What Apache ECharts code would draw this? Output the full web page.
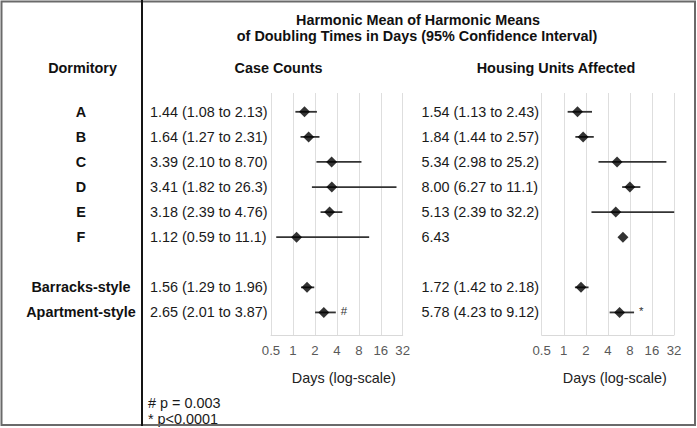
<!DOCTYPE html>
<html>
<head>
<meta charset="utf-8">
<script src="https://cdn.jsdelivr.net/npm/echarts@6/dist/echarts.min.js"></script>
<style>
html,body{margin:0;padding:0;background:#fff;}
#chart{width:697px;height:428px;}
</style>
</head>
<body>
<div id="chart"></div>
<script>
// ---- data ----
var rowNames = ['A', 'B', 'C', 'D', 'E', 'F', 'Barracks-style', 'Apartment-style'];
var rowPos = [1, 2, 3, 4, 5, 6, 8, 9];

var caseMean = [1.44, 1.64, 3.39, 3.41, 3.18, 1.12, 1.56, 2.65];
var caseLo   = [1.08, 1.27, 2.10, 1.82, 2.39, 0.59, 1.29, 2.01];
var caseHi   = [2.13, 2.31, 8.70, 26.3, 4.76, 11.1, 1.96, 3.87];
var caseText = ['1.44 (1.08 to 2.13)', '1.64 (1.27 to 2.31)', '3.39 (2.10 to 8.70)', '3.41 (1.82 to 26.3)',
                '3.18 (2.39 to 4.76)', '1.12 (0.59 to 11.1)', '1.56 (1.29 to 1.96)', '2.65 (2.01 to 3.87)'];
var caseNote = ['', '', '', '', '', '', '', '#'];

var housingMean = [1.54, 1.84, 5.34, 8.00, 5.13, 6.43, 1.72, 5.78];
var housingLo   = [1.13, 1.44, 2.98, 6.27, 2.39, null, 1.42, 4.23];
var housingHi   = [2.43, 2.57, 25.2, 11.1, 32.2, null, 2.18, 9.12];
var housingText = ['1.54 (1.13 to 2.43)', '1.84 (1.44 to 2.57)', '5.34 (2.98 to 25.2)', '8.00 (6.27 to 11.1)',
                   '5.13 (2.39 to 32.2)', '6.43', '1.72 (1.42 to 2.18)', '5.78 (4.23 to 9.12)'];
var housingNote = ['', '', '', '', '', '', '', '*'];

var xTicks = [0.5, 1, 2, 4, 8, 16, 32];
var titleLines = ['Harmonic Mean of Harmonic Means', 'of Doubling Times in Days (95% Confidence Interval)'];
var colHeaders = ['Dormitory', 'Case Counts', 'Housing Units Affected'];
var axisName = 'Days (log-scale)';
var footnotes = ['# p = 0.003', '* p<0.0001'];

// ---- chart ----
var FONT = '"Liberation Sans", Arial, sans-serif';
var FS = 14.4;
var chart = echarts.init(document.getElementById('chart'), null, {renderer: 'svg'});

function idxOf(v) { return rowPos.indexOf(Math.round(v)); }

function xAxisDef(gi) {
  return {
    type: 'log', logBase: 2, gridIndex: gi,
    min: xTicks[0], max: xTicks[xTicks.length - 1], interval: 1,
    axisLine: {show: true, lineStyle: {color: '#d9d9d9', width: 1}},
    axisTick: {show: false},
    splitLine: {show: true, lineStyle: {color: '#dedede', width: 1}},
    axisLabel: {
      fontFamily: FONT, fontSize: 13.2, color: '#595959', margin: 9, hideOverlap: false,
      formatter: function (v) { return String(+(+v).toPrecision(3)); }
    },
    name: axisName, nameLocation: 'middle', nameGap: 36,
    nameTextStyle: {fontFamily: FONT, fontSize: FS, color: '#222', padding: [0, 0, 0, 14]}
  };
}

function yAxisBase(gi) {
  return {
    type: 'value', gridIndex: gi, inverse: true, min: 0.25, max: 9.9,
    axisLine: {show: false}, axisTick: {show: false}, splitLine: {show: false}
  };
}

var y0 = yAxisBase(0);
y0.position = 'left';
y0.axisLabel = {
  customValues: rowPos, align: 'center', margin: 190, fontFamily: FONT, fontSize: FS,
  fontWeight: 'bold', color: '#111',
  formatter: function (v) { var i = idxOf(v); return i < 0 ? '' : rowNames[i]; }
};
var y1 = yAxisBase(0);
y1.position = 'right';
y1.axisLabel = {
  customValues: rowPos, align: 'left', margin: -252.7, fontFamily: FONT, fontSize: FS, color: '#1a1a1a',
  formatter: function (v) { var i = idxOf(v); return i < 0 ? '' : caseText[i]; }
};
var y2 = yAxisBase(1);
y2.position = 'left';
y2.axisLabel = {
  customValues: rowPos, align: 'left', margin: 120.2, fontFamily: FONT, fontSize: FS, color: '#1a1a1a',
  formatter: function (v) { var i = idxOf(v); return i < 0 ? '' : housingText[i]; }
};

function ciData(lo, hi, note) {
  var out = [];
  for (var i = 0; i < rowPos.length; i++) {
    out.push([lo[i], hi[i], rowPos[i], note[i]]);
  }
  return out;
}
function ptData(mean) {
  return mean.map(function (m, i) { return [m, rowPos[i]]; });
}

function renderCI(params, api) {
  var lo = api.value(0), hi = api.value(1), row = api.value(2);
  var note = api.value(3);
  var children = [];
  if (lo != null && hi != null && !isNaN(lo) && !isNaN(hi)) {
    var p1 = api.coord([lo, row]);
    var p2 = api.coord([hi, row]);
    children.push({
      type: 'line',
      shape: {x1: p1[0], y1: p1[1], x2: p2[0], y2: p2[1]},
      style: {stroke: '#333', lineWidth: 1.8}
    });
    if (note) {
      children.push({
        type: 'text',
        style: {x: p2[0] + 5, y: p2[1] - 1, text: note, fill: '#333', font: '11.5px ' + FONT,
                textAlign: 'left', textVerticalAlign: 'middle'}
      });
    }
  }
  return {type: 'group', children: children};
}

var option = {
  backgroundColor: '#fff',
  animation: false,
  grid: [
    {left: 271, right: 697 - 402.7, top: 93, bottom: 428 - 335},
    {left: 541.7, right: 697 - 674, top: 93, bottom: 428 - 335}
  ],
  xAxis: [xAxisDef(0), xAxisDef(1)],
  yAxis: [y0, y1, y2],
  series: [
    {
      type: 'custom', xAxisIndex: 0, yAxisIndex: 0, renderItem: renderCI,
      encode: {x: [0, 1], y: 2}, data: ciData(caseLo, caseHi, caseNote), clip: false, z: 2
    },
    {
      type: 'scatter', xAxisIndex: 0, yAxisIndex: 0, symbol: 'diamond', symbolSize: [11, 11],
      itemStyle: {color: '#000'}, data: ptData(caseMean), z: 3
    },
    {
      type: 'custom', xAxisIndex: 1, yAxisIndex: 2, renderItem: renderCI,
      encode: {x: [0, 1], y: 2}, data: ciData(housingLo, housingHi, housingNote), clip: false, z: 2
    },
    {
      type: 'scatter', xAxisIndex: 1, yAxisIndex: 2, symbol: 'diamond', symbolSize: [11, 11],
      itemStyle: {color: '#000'}, data: ptData(housingMean), z: 3
    }
  ],
  graphic: [
    {type: 'rect', shape: {x: 1.5, y: 1.5, width: 693.5, height: 423.5},
     style: {fill: 'none', stroke: '#6a6a6a', lineWidth: 2}, z: 10},
    {type: 'line', shape: {x1: 142, y1: 0, x2: 142, y2: 426},
     style: {stroke: '#151515', lineWidth: 2}, z: 10},
    {type: 'text', x: 418, y: 20, style: {text: titleLines[0], font: 'bold ' + FS + 'px ' + FONT, fill: '#111',
     textAlign: 'center', textVerticalAlign: 'middle'}},
    {type: 'text', x: 417, y: 36, style: {text: titleLines[1], font: 'bold ' + FS + 'px ' + FONT, fill: '#111',
     textAlign: 'center', textVerticalAlign: 'middle'}},
    {type: 'text', x: 82.5, y: 68, style: {text: colHeaders[0], font: 'bold ' + FS + 'px ' + FONT, fill: '#111',
     textAlign: 'center', textVerticalAlign: 'middle'}},
    {type: 'text', x: 278.5, y: 68, style: {text: colHeaders[1], font: 'bold ' + FS + 'px ' + FONT, fill: '#111',
     textAlign: 'center', textVerticalAlign: 'middle'}},
    {type: 'text', x: 556, y: 68, style: {text: colHeaders[2], font: 'bold ' + FS + 'px ' + FONT, fill: '#111',
     textAlign: 'center', textVerticalAlign: 'middle'}},
    {type: 'text', x: 148, y: 403, style: {text: footnotes[0], font: FS + 'px ' + FONT, fill: '#1a1a1a',
     textAlign: 'left', textVerticalAlign: 'middle'}},
    {type: 'text', x: 148, y: 419, style: {text: footnotes[1], font: FS + 'px ' + FONT, fill: '#1a1a1a',
     textAlign: 'left', textVerticalAlign: 'middle'}}
  ]
};
chart.setOption(option);
</script>
</body>
</html>
